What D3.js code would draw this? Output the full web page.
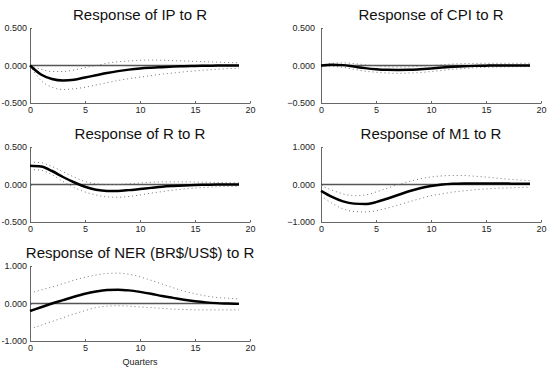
<!DOCTYPE html>
<html>
<head>
<meta charset="utf-8">
<script src="https://cdn.jsdelivr.net/npm/d3@7"></script>
<style>
  html, body { margin: 0; padding: 0; background: #fff; }
  svg { display: block; font-family: "Liberation Sans", Arial, sans-serif; }
</style>
</head>
<body>
<div id="chart"></div>
<script>
// ----- DATA -----------------------------------------------//
var quarters = d3.range(0, 20);
var xTicks = [0, 5, 10, 15, 20];

var titles = ['Response of IP to R', 'Response of CPI to R', 'Response of R to R',
              'Response of M1 to R', 'Response of NER (BR$/US$) to R'];

var ipResp  = [0, -0.12, -0.18, -0.20, -0.19, -0.16, -0.13, -0.10, -0.075, -0.055, -0.04, -0.03, -0.022, -0.015, -0.01, -0.006, -0.003, -0.001, 0, 0];
var ipUpper = [0, -0.05, -0.08, -0.08, -0.06, -0.03, 0.0, 0.03, 0.05, 0.06, 0.07, 0.072, 0.07, 0.065, 0.06, 0.055, 0.05, 0.045, 0.04, 0.035];
var ipLower = [0, -0.20, -0.29, -0.32, -0.31, -0.29, -0.26, -0.23, -0.20, -0.175, -0.155, -0.135, -0.115, -0.10, -0.085, -0.072, -0.06, -0.05, -0.042, -0.035];

var cpiResp  = [0, 0.01, 0.005, -0.015, -0.035, -0.05, -0.058, -0.06, -0.058, -0.05, -0.04, -0.028, -0.018, -0.01, -0.005, -0.002, 0, 0, 0, 0];
var cpiUpper = [0, 0.03, 0.035, 0.025, 0.01, -0.005, -0.015, -0.02, -0.018, -0.01, 0, 0.01, 0.02, 0.025, 0.028, 0.03, 0.03, 0.03, 0.03, 0.03];
var cpiLower = [0, -0.01, -0.025, -0.05, -0.075, -0.09, -0.10, -0.105, -0.10, -0.095, -0.08, -0.065, -0.05, -0.04, -0.03, -0.025, -0.02, -0.018, -0.015, -0.015];

var rResp  = [0.25, 0.24, 0.18, 0.10, 0.03, -0.03, -0.07, -0.085, -0.085, -0.075, -0.06, -0.045, -0.03, -0.02, -0.012, -0.006, -0.003, 0, 0, 0];
var rUpper = [0.30, 0.29, 0.24, 0.17, 0.10, 0.04, 0.01, 0.0, 0.0, 0.01, 0.02, 0.03, 0.035, 0.035, 0.035, 0.033, 0.03, 0.028, 0.025, 0.023];
var rLower = [0.20, 0.19, 0.13, 0.04, -0.04, -0.10, -0.14, -0.165, -0.17, -0.16, -0.14, -0.115, -0.095, -0.075, -0.06, -0.048, -0.038, -0.03, -0.025, -0.022];

var m1Resp  = [-0.17, -0.33, -0.45, -0.51, -0.52, -0.47, -0.38, -0.28, -0.18, -0.10, -0.04, 0.0, 0.02, 0.03, 0.03, 0.03, 0.03, 0.025, 0.02, 0.02];
var m1Upper = [-0.03, -0.15, -0.25, -0.30, -0.28, -0.20, -0.10, 0.0, 0.08, 0.15, 0.20, 0.23, 0.24, 0.24, 0.22, 0.20, 0.17, 0.14, 0.12, 0.10];
var m1Lower = [-0.30, -0.50, -0.65, -0.72, -0.73, -0.70, -0.63, -0.55, -0.46, -0.38, -0.30, -0.25, -0.20, -0.17, -0.14, -0.12, -0.10, -0.09, -0.08, -0.07];

var nerResp  = [-0.20, -0.10, 0.0, 0.09, 0.18, 0.26, 0.32, 0.36, 0.37, 0.35, 0.31, 0.26, 0.20, 0.15, 0.10, 0.06, 0.03, 0.01, 0.0, -0.01];
var nerUpper = [0.28, 0.36, 0.44, 0.53, 0.62, 0.70, 0.76, 0.80, 0.81, 0.78, 0.71, 0.62, 0.52, 0.42, 0.33, 0.26, 0.20, 0.16, 0.14, 0.12];
var nerLower = [-0.68, -0.58, -0.48, -0.38, -0.28, -0.19, -0.11, -0.07, -0.06, -0.07, -0.09, -0.11, -0.13, -0.15, -0.16, -0.17, -0.17, -0.17, -0.17, -0.17];

var yTicksSmall = [-0.5, 0, 0.5];
var yTicksLarge = [-1, 0, 1];

// ----- LAYOUT ---------------------------------------------//
var WIDTH = 551, HEIGHT = 368,
    PLOT_W = 220, PLOT_H = 75,
    COL_X = [30, 321], ROW_Y = [28, 147, 266],
    TICK_FONT = 9, TITLE_FONT = 15;

var panels = [
  { title: titles[0], resp: ipResp,  upper: ipUpper,  lower: ipLower,  ticks: yTicksSmall, col: 0, row: 0 },
  { title: titles[1], resp: cpiResp, upper: cpiUpper, lower: cpiLower, ticks: yTicksSmall, col: 1, row: 0 },
  { title: titles[2], resp: rResp,   upper: rUpper,   lower: rLower,   ticks: yTicksSmall, col: 0, row: 1 },
  { title: titles[3], resp: m1Resp,  upper: m1Upper,  lower: m1Lower,  ticks: yTicksLarge, col: 1, row: 1 },
  { title: titles[4], resp: nerResp, upper: nerUpper, lower: nerLower, ticks: yTicksLarge, col: 0, row: 2, xlabel: 'Quarters' }
];

var svg = d3.select('#chart').append('svg')
    .attr('width', WIDTH)
    .attr('height', HEIGHT);

// left column is tight against the page edge, so use a short hyphen there
function tickFormat(minus) {
  return function (v) { return v < 0 ? minus + d3.format('.3f')(-v) : d3.format('.3f')(v); };
}

panels.forEach(function (p) {
  var g = svg.append('g')
      .attr('transform', 'translate(' + COL_X[p.col] + ',' + ROW_Y[p.row] + ')');

  var x = d3.scaleLinear().domain([0, 20]).range([0, PLOT_W]);
  var y = d3.scaleLinear().domain([p.ticks[0], p.ticks[2]]).range([PLOT_H, 0]);

  // title
  g.append('text')
      .attr('x', PLOT_W / 2)
      .attr('y', -8)
      .attr('text-anchor', 'middle')
      .attr('font-size', TITLE_FONT)
      .attr('fill', '#111')
      .text(p.title);

  // x axis
  var xAxis = g.append('g')
      .attr('transform', 'translate(0,' + PLOT_H + ')')
      .call(d3.axisBottom(x).tickValues(xTicks).tickSize(-2).tickPadding(4).tickSizeOuter(0));
  xAxis.select('.domain').attr('stroke', '#666');
  xAxis.selectAll('.tick line').attr('stroke', '#666');
  xAxis.selectAll('text').attr('font-size', TICK_FONT).attr('fill', '#222');

  // y axis
  var yAxis = g.append('g')
      .call(d3.axisLeft(y).tickValues(p.ticks)
        .tickFormat(tickFormat(p.col === 0 ? '-' : '\u2212'))
        .tickSize(-2).tickPadding(p.col === 0 ? 3 : 6).tickSizeOuter(0));
  yAxis.select('.domain').attr('stroke', '#666');
  yAxis.selectAll('.tick line').attr('stroke', '#666');
  yAxis.selectAll('text').attr('font-size', TICK_FONT).attr('fill', '#222');

  // zero line
  g.append('line')
      .attr('x1', x(0)).attr('x2', x(19))
      .attr('y1', y(0)).attr('y2', y(0))
      .attr('stroke', '#555')
      .attr('stroke-width', 1.5);

  var line = d3.line()
      .x(function (d, i) { return x(quarters[i]); })
      .y(function (d) { return y(d); })
      .curve(d3.curveMonotoneX);

  // confidence bands
  [p.upper, p.lower].forEach(function (band) {
    g.append('path')
        .datum(band)
        .attr('fill', 'none')
        .attr('stroke', '#777')
        .attr('stroke-width', 1)
        .attr('stroke-dasharray', '1,3')
        .attr('d', line);
  });

  // response
  g.append('path')
      .datum(p.resp)
      .attr('fill', 'none')
      .attr('stroke', '#000')
      .attr('stroke-width', 2.5)
      .attr('d', line);

  if (p.xlabel) {
    g.append('text')
        .attr('x', PLOT_W / 2)
        .attr('y', PLOT_H + 24)
        .attr('text-anchor', 'middle')
        .attr('font-size', TICK_FONT)
        .attr('fill', '#222')
        .text(p.xlabel);
  }
});
</script>
</body>
</html>
